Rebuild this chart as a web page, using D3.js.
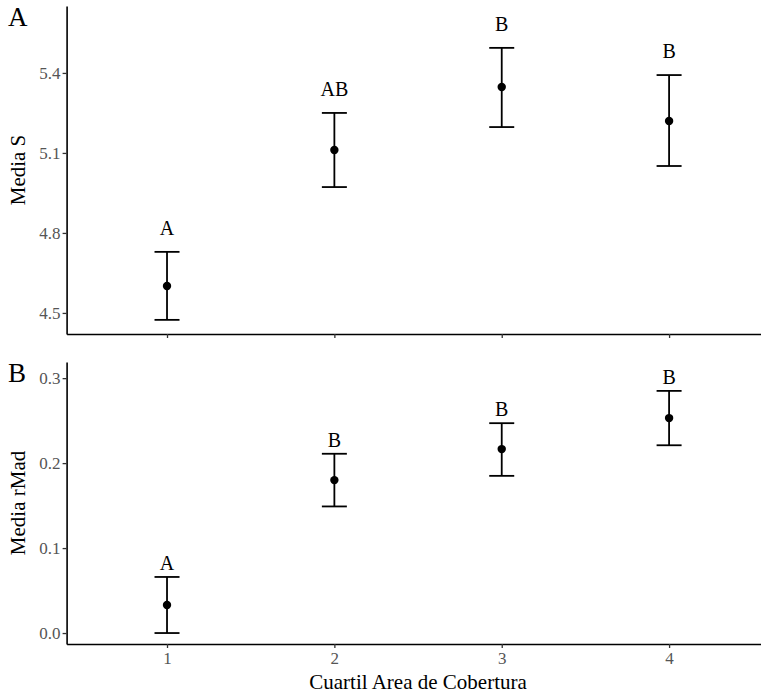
<!DOCTYPE html>
<html><head><meta charset="utf-8">
<script src="https://cdn.jsdelivr.net/npm/d3@7/dist/d3.min.js"></script>
<style>body{margin:0;background:#fff}svg{display:block}</style>
</head><body>
<svg id="c" width="761" height="696"></svg>
<script>
const categories = ["1","2","3","4"];
// Panel A: Media S
const meanS  = [4.601, 5.111, 5.347, 5.220];
const lowS   = [4.474, 4.972, 5.197, 5.051];
const highS  = [4.729, 5.250, 5.494, 5.392];
const lettersS = ["A","AB","B","B"];
const ticksS = [4.5, 4.8, 5.1, 5.4];
// Panel B: Media rMad
const meanR  = [0.033, 0.180, 0.2165, 0.253];
const lowR   = [0.000, 0.149, 0.185, 0.221];
const highR  = [0.066, 0.211, 0.247, 0.285];
const lettersR = ["A","B","B","B"];
const ticksR = [0.0, 0.1, 0.2, 0.3];

const svg = d3.select("#c");
const font = "'Liberation Serif','Times New Roman',serif";
const x = d3.scaleLinear().domain([0.4, 4.6]).range([66.6, 769.5]);

function panel(cfg){
  const y = d3.scaleLinear().domain(cfg.domain).range([cfg.bottom, cfg.top]);
  const g = svg.append("g");
  const ya = g.append("g").attr("transform", `translate(${x(0.4)},0)`)
    .call(d3.axisLeft(y).tickValues(cfg.ticks).tickFormat(d3.format(".1f")).tickSize(4).tickSizeOuter(0));
  ya.attr("font-family",font);
  ya.select(".domain").attr("stroke","#000").attr("stroke-width",1.6);
  ya.selectAll(".tick line").attr("stroke","#333").attr("stroke-width",1.3);
  ya.selectAll(".tick text").attr("fill","#555").attr("font-family",font).attr("font-size",17).attr("x",-6);
  const xa = g.append("g").attr("transform", `translate(0,${cfg.bottom})`)
    .call(d3.axisBottom(x).tickValues(categories.map(Number)).tickFormat(d=>cfg.showXLabels? String(d):"").tickSize(4).tickSizeOuter(0));
  xa.attr("font-family",font);
  xa.select(".domain").attr("stroke","#000").attr("stroke-width",1.6);
  xa.selectAll(".tick line").attr("stroke","#333").attr("stroke-width",1.3);
  xa.selectAll(".tick text").attr("fill","#555").attr("font-family",font).attr("font-size",17).attr("dy","0.75em");
  const data = categories.map((c,i)=>({c:+c, m:cfg.mean[i], lo:cfg.low[i], hi:cfg.high[i], l:cfg.letters[i]}));
  const eb = g.append("g").selectAll("g").data(data).join("g");
  eb.append("line").attr("x1",d=>x(d.c)).attr("x2",d=>x(d.c)).attr("y1",d=>y(d.lo)).attr("y2",d=>y(d.hi))
    .attr("stroke","#000").attr("stroke-width",1.8);
  eb.append("line").attr("x1",d=>x(d.c)-12.5).attr("x2",d=>x(d.c)+12.5).attr("y1",d=>y(d.lo)).attr("y2",d=>y(d.lo))
    .attr("stroke","#000").attr("stroke-width",1.8);
  eb.append("line").attr("x1",d=>x(d.c)-12.5).attr("x2",d=>x(d.c)+12.5).attr("y1",d=>y(d.hi)).attr("y2",d=>y(d.hi))
    .attr("stroke","#000").attr("stroke-width",1.8);
  eb.append("circle").attr("cx",d=>x(d.c)).attr("cy",d=>y(d.m)).attr("r",4.2).attr("fill","#000");
  eb.append("text").attr("x",d=>x(d.c)).attr("y",d=>y(d.hi)-cfg.labelGap).attr("text-anchor","middle").attr("dy","0.35em")
    .attr("font-family",font).attr("font-size",20).attr("fill","#000").text(d=>d.l);
  const cy = (cfg.top+cfg.bottom)/2;
  g.append("text").attr("transform",`translate(25,${cy}) rotate(-90)`).attr("text-anchor","middle")
    .attr("font-family",font).attr("font-size",21).attr("fill","#000").text(cfg.title);
  g.append("text").attr("x",8).attr("y",cfg.tagY).attr("font-family",font).attr("font-size",27).attr("fill","#000").text(cfg.tag);
}

panel({domain:[4.421,5.651], top:6, bottom:334, ticks:ticksS, mean:meanS, low:lowS, high:highS, letters:lettersS,
  title:"Media S", tag:"A", tagY:26, showXLabels:false, labelGap:24});
panel({domain:[-0.0129,0.319], top:362, bottom:644, ticks:ticksR, mean:meanR, low:lowR, high:highR, letters:lettersR,
  title:"Media rMad", tag:"B", tagY:382, showXLabels:true, labelGap:14});

svg.append("text").attr("x",x(2.5)).attr("y",689).attr("text-anchor","middle")
  .attr("font-family",font).attr("font-size",21).attr("fill","#000").text("Cuartil Area de Cobertura");
</script>
</body></html>
